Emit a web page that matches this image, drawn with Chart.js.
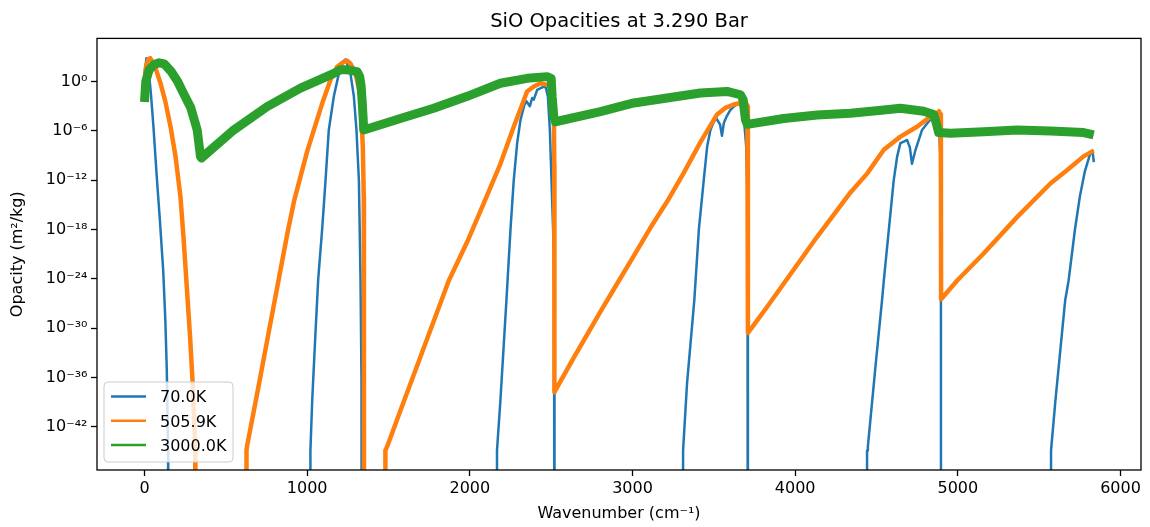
<!DOCTYPE html>
<html><head><meta charset="utf-8">
<script src="https://cdn.jsdelivr.net/npm/chart.js@4.4.1/dist/chart.umd.min.js"></script>
<style>html,body{margin:0;padding:0;background:#fff}#wrap{width:1150px;height:527px}</style>
</head><body><div id="wrap"><canvas id="c" width="1150" height="527"></canvas></div>
<script>
// ---------- data ----------
const chartTitle = 'SiO Opacities at 3.290 Bar';
const xAxisTitle = 'Wavenumber (cm⁻¹)';
const yAxisTitle = 'Opacity (m²/kg)';
const seriesNames = ['70.0K', '505.9K', '3000.0K'];
const seriesColors = ['#1f77b4', '#ff7f0e', '#2ca02c'];

// 70.0 K : wavenumber (cm^-1) and opacity (m^2/kg); 0 = no opacity
const wn70 = [0,12,25,40,55,75,95,115,128,137,142,145,146,
  1019,1020,1031,1051,1068,1092,1113,1133,1164,1195,1225,1236,1266,1287,1303,1318,1328,1334,1336,1337,
  2166,2167,2188,2225,2250,2270,2291,2311,2336,2348,2369,2383,2393,2414,2445,2465,2480,2492,2502,2512,2518,2520,2521,
  3310,3311,3335,3380,3408,3438,3459,3479,3500,3516,3538,3550,3562,3580,3600,3622,3647,3663,3684,3699,3707,3709,3710,
  4441,4442,4447,4493,4534,4545,4576,4606,4627,4647,4668,4688,4705,4718,4740,4760,4780,4811,4841,4862,4882,4895,4896,4897,
  5572,5573,5600,5660,5681,5720,5750,5780,5810,5828,5836];
const op70 = [7.9e0,7.1e2,3.2e1,2.5e-2,3.2e-6,3.2e-12,1e-17,1e-23,1e-29,1e-35,1e-41,1.3e-45,0,
  0,1.3e-45,1.6e-39,2.5e-31,1e-24,1e-18,1e-12,1.3e-6,1.6e-2,1e1,3.2e2,5e2,1e1,1.6e-2,1.3e-6,1e-12,6.3e-25,5e-37,1.3e-45,0,
  0,1.3e-45,1.6e-39,2.5e-27,1e-18,1e-12,3.2e-8,2e-5,1.6e-3,4e-3,1e-3,1e-2,6.3e-3,1e-1,2e-1,2.5e-1,1.6e-2,1.3e-6,1e-12,1e-18,6.3e-25,1e-30,0,
  0,1.3e-45,1.6e-37,2.5e-27,1e-18,1e-12,1.3e-8,1.3e-6,1.3e-5,3.2e-5,6.3e-6,2.5e-7,1e-5,6.3e-5,3.2e-4,8.9e-4,2e-3,1.6e-3,5e-5,1.3e-8,1e-14,1e-30,0,
  0,1.3e-45,4e-45,1.6e-35,2.5e-27,6.3e-25,1e-18,1e-12,7.9e-10,3.2e-8,5e-8,7.9e-8,1e-8,1e-10,5e-9,7.9e-8,1.3e-6,7.9e-6,4e-5,1.4e-4,2e-5,1e-10,1e-20,0,
  0,1.3e-45,1.6e-39,2.5e-27,6.3e-25,1e-18,1e-14,1e-11,1e-9,4e-9,1.6e-10];

// 505.9 K
const wn506 = [0,8,23,35,50,70,100,129,160,190,221,240,260,280,295,307,312,313,
  626,627,631,700,760,820,880,920,1000,1090,1143,1184,1225,1246,1266,1297,1328,1342,1348,1349,1350,
  1480,1481,1492,1574,1700,1871,1984,2086,2188,2270,2352,2393,2434,2475,2506,2516,2519,
  2520,2557,2639,2721,2803,2884,3008,3110,3213,3315,3417,3520,3570,3622,3663,3694,3706,3709,
  3710,3746,3828,3929,4135,4340,4442,4545,4647,4749,4831,4873,4884,4894,4896,
  4897,4996,5160,5364,5569,5671,5773,5835];
const op506 = [2e-1,4.7e1,5e2,7.1e2,2.5e2,3.2e1,5e-1,3.2e-3,3.2e-6,1e-9,1e-14,1e-19,1e-25,1e-31,5e-37,1e-42,1.3e-45,0,
  0,1.3e-45,5e-45,6.3e-38,1.3e-31,2.5e-25,5e-19,3.2e-15,3.2e-9,1.6e-3,1.6e0,6.3e1,2.5e2,3.5e2,1.6e2,1e1,1.6e-2,1.3e-8,1e-14,1e-35,0,
  0,1.3e-45,4e-45,1e-40,5e-34,6.3e-25,3.2e-20,1.6e-15,1e-10,3.2e-6,6.3e-2,2.5e-1,6.3e-1,4e-1,2.5e-1,1.6e-2,1e-10,
  1.6e-38,3.2e-37,2.5e-34,1.6e-31,1e-28,5e-26,6.3e-22,1.6e-18,2.5e-15,7.9e-12,4e-8,1e-4,6.3e-4,1.6e-3,2.5e-3,4e-3,1e-3,1e-10,
  2.5e-31,2.5e-30,4e-28,2.5e-25,1.3e-19,3.2e-14,6.3e-12,5e-9,2e-7,3.2e-6,5.4e-5,1.4e-4,2.5e-4,1e-4,1e-12,
  3.2e-27,6.3e-25,1.3e-21,3.2e-17,4e-13,1.6e-11,7.9e-10,4e-9];

// 3000.0 K
const wn3000 = [0,8,29,60,90,121,162,203,244,285,324,344,350,549,754,959,1164,1205,1246,1307,1323,1332,1340,1348,
  1573,1778,1984,2188,2352,2475,2500,2506,2516,2526,2803,3008,3213,3417,3581,3663,3680,3694,3705,
  3930,4135,4340,4545,4647,4790,4852,4868,4882,4955,5160,5364,5569,5773,5835];
const op3000 = [3.2e-3,1.1e0,2.9e1,1.2e2,1.9e2,1.4e2,1.9e1,1.1e0,2.5e-2,6.3e-4,1.3e-6,7.9e-10,5e-10,1.3e-6,8.9e-4,1.6e-1,1e1,2.7e1,2.7e1,1.6e1,4e0,2.5e-1,1e-3,1.3e-6,
  3.2e-5,5.6e-4,1.6e-2,6.3e-1,2.5e0,4e0,2.5e0,1.6e-2,5e-5,1.3e-5,2.2e-4,2.5e-3,1e-2,4e-2,6.3e-2,2.5e-2,6.3e-3,2.5e-5,6.3e-6,
  3.2e-5,8.7e-5,1.4e-4,3.5e-4,5.6e-4,2.5e-4,1e-4,7.9e-6,6.3e-7,5e-7,7.9e-7,1.3e-6,1e-6,6.3e-7,3.2e-7];

// ticks
const xTickValues = [0, 1000, 2000, 3000, 4000, 5000, 6000];
const xTickLabels = ['0', '1000', '2000', '3000', '4000', '5000', '6000'];
const yTickValues = [1e-42, 1e-36, 1e-30, 1e-24, 1e-18, 1e-12, 1e-6, 1e0];
const yTickLabels = ['10⁻⁴²', '10⁻³⁶', '10⁻³⁰', '10⁻²⁴', '10⁻¹⁸', '10⁻¹²', '10⁻⁶', '10⁰'];

// ---------- chart ----------
Chart.defaults.font.family = "'DejaVu Sans', sans-serif";
Chart.defaults.color = '#000';

// zero opacity cannot sit on a log axis: push it far below the visible range (like matplotlib's clipping)
const toPoints = (xs, ys) => xs.map((x, i) => ({ x: x, y: ys[i] > 0 ? ys[i] : 1e-99 }));

const frame = {
  id: 'frame',
  afterDatasetsDraw(chart) {
    const { ctx, chartArea: a } = chart;
    ctx.save();
    ctx.strokeStyle = '#000';
    ctx.lineWidth = 1.3;
    ctx.strokeRect(a.left, a.top, a.right - a.left, a.bottom - a.top);
    ctx.restore();
  }
};

const mplLegend = {
  id: 'mplLegend',
  afterDraw(chart) {
    const { ctx, chartArea: a } = chart;
    const w = 129, h = 80;
    const left = a.left + 7, top = a.bottom - 8 - h;
    ctx.save();
    ctx.beginPath();
    ctx.roundRect(left, top, w, h, 4);
    ctx.fillStyle = 'rgba(255,255,255,0.8)';
    ctx.fill();
    ctx.strokeStyle = '#cccccc';
    ctx.lineWidth = 1;
    ctx.stroke();
    ctx.font = "16px 'DejaVu Sans', sans-serif";
    ctx.textAlign = 'left';
    ctx.textBaseline = 'alphabetic';
    chart.data.datasets.forEach((ds, i) => {
      const y = top + 14.5 + i * 24.2;
      ctx.beginPath();
      ctx.moveTo(left + 7, y);
      ctx.lineTo(left + 42, y);
      ctx.strokeStyle = ds.borderColor;
      ctx.lineWidth = 2.5;
      ctx.stroke();
      ctx.fillStyle = '#000';
      ctx.fillText(ds.label, left + 56, y + 5.9);
    });
    ctx.restore();
  }
};

const widths = [2.5, 4.5, 9];
const xs = [wn70, wn506, wn3000];
const ys = [op70, op506, op3000];

new Chart(document.getElementById('c'), {
  type: 'line',
  data: {
    datasets: seriesNames.map((name, i) => ({
      label: name,
      data: toPoints(xs[i], ys[i]),
      borderColor: seriesColors[i],
      backgroundColor: seriesColors[i],
      borderWidth: widths[i],
      pointRadius: 0,
      tension: 0,
      fill: false,
      clip: 0,
      order: 2 - i,
      borderJoinStyle: 'round'
    }))
  },
  options: {
    responsive: false,
    animation: false,
    devicePixelRatio: 1,
    layout: { padding: { left: 0, right: 9, top: 0, bottom: 0 } },
    plugins: {
      legend: { display: false },
      tooltip: { enabled: false },
      title: {
        display: true, text: chartTitle, fullSize: false, color: '#000',
        font: { size: 19.5, weight: 'normal' }, padding: { top: 10, bottom: 5 }
      }
    },
    scales: {
      x: {
        type: 'linear', position: 'bottom', min: -292, max: 6126,
        afterBuildTicks: s => { s.ticks = xTickValues.map(v => ({ value: v })); },
        afterFit: s => { s.height = 57; },
        ticks: { callback: (v, i) => xTickLabels[i], font: { size: 16 }, padding: 3, maxRotation: 0, autoSkip: false, color: '#000' },
        grid: { display: true, drawOnChartArea: false, drawTicks: true, tickLength: 6, tickWidth: 1.3, tickColor: '#000' },
        border: { display: false },
        title: { display: true, text: xAxisTitle, font: { size: 16 }, padding: { top: 0, bottom: 4 }, color: '#000' }
      },
      y: {
        type: 'logarithmic', position: 'left', min: 5.4e-48, max: 1.8e5,
        afterBuildTicks: s => { s.ticks = yTickValues.map(v => ({ value: v })); },
        afterFit: s => { s.width = 97; },
        ticks: { callback: (v, i) => yTickLabels[i], font: { size: 16 }, padding: 3.5, autoSkip: false, color: '#000' },
        grid: { display: true, drawOnChartArea: false, drawTicks: true, tickLength: 6, tickWidth: 1.3, tickColor: '#000' },
        border: { display: false },
        title: { display: true, text: yAxisTitle, font: { size: 16 }, padding: { top: 8.5, bottom: 0 }, color: '#000' }
      }
    }
  },
  plugins: [frame, mplLegend]
});
</script>
</body></html>
